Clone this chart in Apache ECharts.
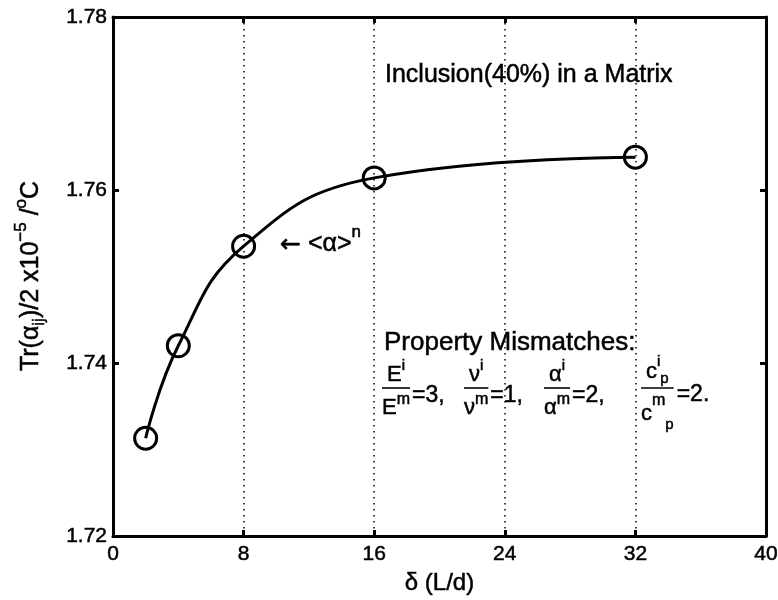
<!DOCTYPE html>
<html>
<head>
<meta charset="utf-8">
<script src="https://cdn.jsdelivr.net/npm/echarts@6/dist/echarts.min.js"></script>
<style>
  html, body { margin: 0; padding: 0; background: #ffffff; }
  #chart { width: 778px; height: 600px; }
</style>
</head>
<body>
<div id="chart"></div>
<script>
// Effective thermal expansion vs. aspect ratio δ
const deltaValues = [2, 4, 8, 16, 32];
const alphaValues = [1.7313, 1.7420, 1.7535, 1.7614, 1.7638];
const xTicks = [0, 8, 16, 24, 32, 40];
const yTicks = [1.72, 1.74, 1.76, 1.78];

const FONT = '"Liberation Sans", Arial, Helvetica, sans-serif';
const INK = 0.5; // slight stroke so the glyphs read as heavy as printed type
const measureCtx = document.createElement('canvas').getContext('2d');
function textWidth(t, size, family) {
  measureCtx.font = size + 'px ' + (family || FONT);
  return measureCtx.measureText(t).width;
}

// Lay out a run of text pieces (with super/subscript offsets) left to right
function textRun(parts, x0, y0) {
  let x = x0;
  const items = [];
  parts.forEach(([t, size, dy, family]) => {
    items.push({
      type: 'text', x: x, y: y0 + (dy || 0), silent: true, z: 100,
      style: { text: t, font: size + 'px ' + (family || FONT), fill: '#000',
               stroke: '#000', lineWidth: INK,
               textAlign: 'left', textVerticalAlign: 'middle' }
    });
    x += textWidth(t, size, family);
  });
  return { items, width: x - x0 };
}
function runWidth(parts) {
  return parts.reduce((s, [t, size, dy, family]) => s + textWidth(t, size, family), 0);
}

// Stacked ratio: numerator over a bar over denominator, then trailing text
function ratio(xLeft, barY, num, den, tail, opts) {
  const o = Object.assign({ numDy: -13, denDy: 20, tailDy: 8, gap: 2 }, opts || {});
  const nw = runWidth(num), dw = runWidth(den);
  const bw = Math.max(nw, dw);
  const items = [];
  items.push(...textRun(num, xLeft + (bw - nw) / 2, barY + o.numDy).items);
  items.push({ type: 'line', silent: true, z: 100,
    shape: { x1: xLeft, y1: barY, x2: xLeft + bw, y2: barY },
    style: { stroke: '#000', lineWidth: 1.6 } });
  items.push(...textRun(den, xLeft + (bw - dw) / 2, barY + o.denDy).items);
  items.push(...textRun(tail, xLeft + bw + o.gap, barY + o.tailDy).items);
  return items;
}

const graphics = [];

// y-axis title, rotated
(function () {
  const parts = [['Tr(α', 25, 0], ['ij', 17, 8], [')/2 x10', 25, 0], ['−5', 17, -10],
                 [' /', 25, 0], ['o', 17, -10], ['C', 25, 0]];
  const wTot = runWidth(parts);
  const run = textRun(parts, -wTot / 2, 0);
  graphics.push({ type: 'group', x: 31, y: 276, rotation: Math.PI / 2, children: run.items });
})();

// Title inside the axes
graphics.push(...textRun([['Inclusion(40%) in a Matrix', 25, 0]], 385, 75).items);

// Curve annotation
graphics.push(...textRun([['←', 25, 1, '"DejaVu Sans", sans-serif'], [' <α>', 25, 0], ['n', 17, -12]], 280, 244).items);

// Property mismatch block
graphics.push(...textRun([['Property Mismatches:', 26, 0]], 384, 343).items);
const barY = 388;
graphics.push(...ratio(382, barY, [['E', 22, 0], ['i', 15, -9]], [['E', 22, 0], ['m', 16, -8]], [['=3,', 23, 0]]));
graphics.push(...ratio(464, barY, [['ν', 22, 0], ['i', 15, -9]], [['ν', 22, 0], ['m', 16, -8]], [['=1,', 23, 0]]));
graphics.push(...ratio(544, barY, [['α', 22, 0], ['i', 15, -9]], [['α', 22, 0], ['m', 16, -8]], [['=2,', 23, 0]]));
graphics.push(...ratio(641, barY,
  [['c', 22, 0], ['i', 15, -10], ['p', 15, 7]],
  [['c', 22, 0], ['m', 16, -13], ['p', 15, 11]],
  [['=2.', 23, 0]], { numDy: -16, denDy: 26, tailDy: 7, gap: 3 }));

const axisCommon = {
  type: 'value',
  axisLine: { show: true, onZero: false, lineStyle: { color: '#000', width: 3 } },
  axisTick: { show: true, inside: true, length: 6, lineStyle: { color: '#000', width: 3 } },
  minorTick: { show: false }
};
const tickLabel = { color: '#000', fontFamily: FONT, fontSize: 21,
                    textBorderColor: '#000', textBorderWidth: INK };

const option = {
  backgroundColor: '#ffffff',
  animation: false,
  grid: { left: 113, right: 12, top: 17, bottom: 64, containLabel: false, outerBoundsMode: 'none' },
  xAxis: [
    Object.assign({}, axisCommon, {
      min: xTicks[0], max: xTicks[xTicks.length - 1], interval: xTicks[1] - xTicks[0],
      position: 'bottom',
      name: 'δ (L/d)', nameLocation: 'middle', nameGap: 35,
      nameTextStyle: { fontFamily: FONT, fontSize: 24, color: '#000',
                       textBorderColor: '#000', textBorderWidth: INK },
      axisLabel: Object.assign({ margin: 8 }, tickLabel),
      splitLine: { show: true, lineStyle: { color: '#000', type: [1.5, 4.5], width: 1.5 } }
    }),
    Object.assign({}, axisCommon, {
      min: xTicks[0], max: xTicks[xTicks.length - 1], interval: xTicks[1] - xTicks[0],
      position: 'top', axisLabel: { show: false }, splitLine: { show: false }
    })
  ],
  yAxis: [
    Object.assign({}, axisCommon, {
      min: yTicks[0], max: yTicks[yTicks.length - 1], interval: 0.02,
      position: 'left',
      axisLabel: Object.assign({ margin: 6, formatter: v => v.toFixed(2) }, tickLabel),
      splitLine: { show: false }
    }),
    Object.assign({}, axisCommon, {
      min: yTicks[0], max: yTicks[yTicks.length - 1], interval: 0.02,
      position: 'right', axisLabel: { show: false }, splitLine: { show: false }
    })
  ],
  series: [{
    type: 'line',
    data: deltaValues.map((d, i) => [d, alphaValues[i]]),
    smooth: 0.45,
    symbol: 'circle',
    symbolSize: 22,
    showAllSymbol: true,
    lineStyle: { color: '#000', width: 3 },
    itemStyle: { color: 'rgba(0,0,0,0)', borderColor: '#000', borderWidth: 3 },
    z: 5
  }],
  graphic: graphics
};

const chart = echarts.init(document.getElementById('chart'), null, { renderer: 'canvas' });
chart.setOption(option);
</script>
</body>
</html>
